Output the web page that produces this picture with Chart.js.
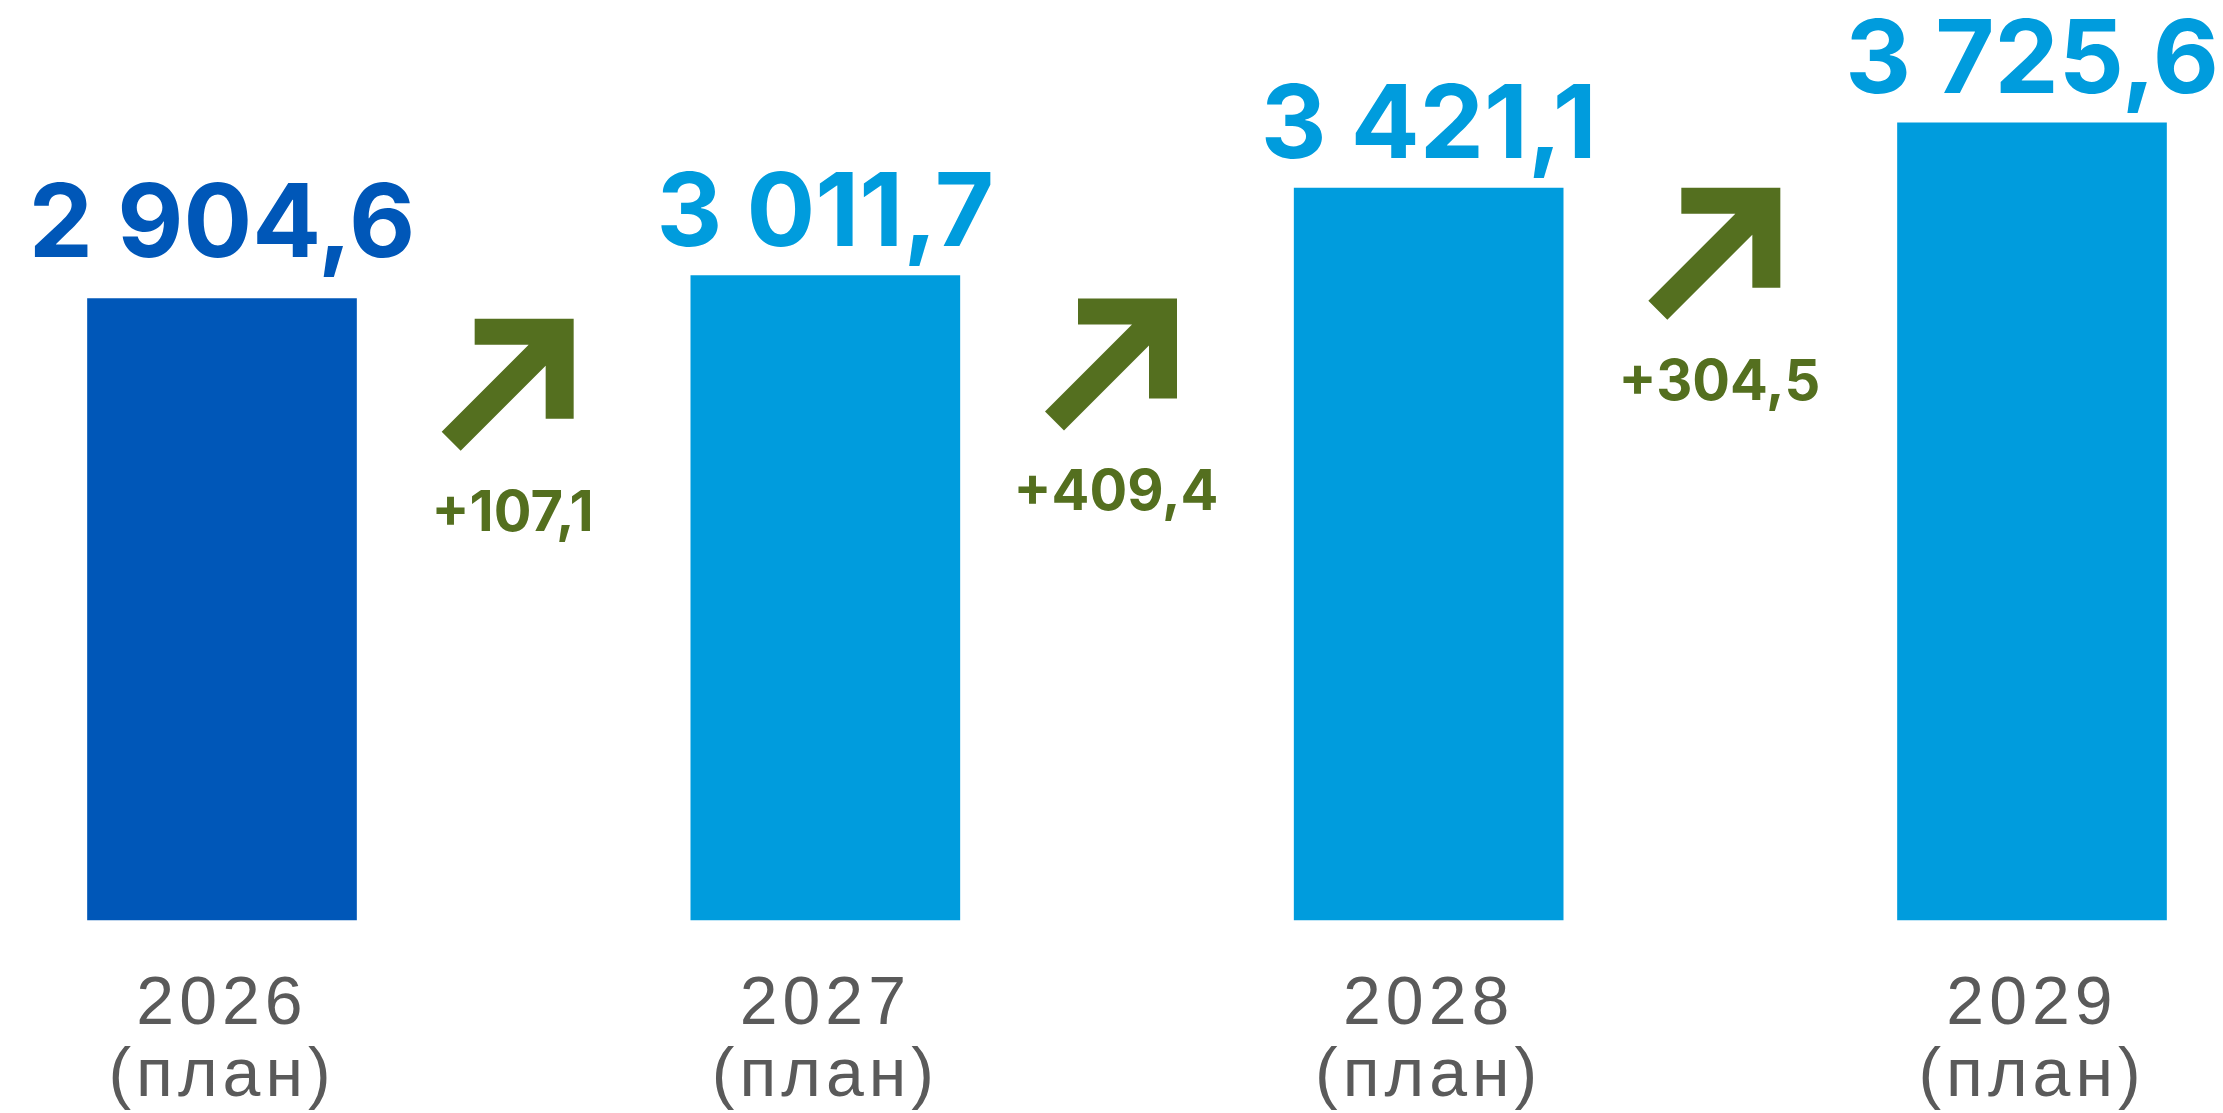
<!DOCTYPE html>
<html lang="ru">
<head>
  <meta charset="utf-8">
  <title>Прогноз по годам (план)</title>
  <script src="https://cdn.jsdelivr.net/npm/chart.js@4.4.1/dist/chart.umd.min.js"></script>
  <style>
    body { margin: 0; background: #fff; }
    canvas { display: block; }
  </style>
</head>
<body>
  <canvas id="chart" width="2223" height="1113"></canvas>
<script>
  var years = ['2026', '2027', '2028', '2029'];
  var yearNote = '(план)';
  var values = [2904.6, 3011.7, 3421.1, 3725.6];
  var barColors = ['#0057b8', '#009cdd', '#009cdd', '#009cdd'];
  // tip of each growth arrow, in y axis units
  var arrowTips = [2810, 2905, 3422];
  var green = '#546f1f';

  // 2904.6 -> "2 904,6"
  function fmt(v) {
    var parts = v.toFixed(1).split('.');
    var int = parts[0].replace(/\B(?=(\d{3})+$)/g, ' ');
    return int + ',' + parts[1];
  }

  var extras = {
    id: 'extras',
    beforeDraw: function (chart) {
      // spaced-out year labels
      chart.ctx.letterSpacing = '5px';
    },
    afterDatasetsDraw: function (chart) {
      var ctx = chart.ctx;
      var bars = chart.getDatasetMeta(0).data;
      var y = chart.scales.y;
      ctx.save();
      ctx.letterSpacing = '0px';
      ctx.textAlign = 'center';
      ctx.textBaseline = 'alphabetic';

      // values over the bars (first one, the base year, sits a bit higher)
      ctx.font = '700 102px Inter';
      bars.forEach(function (bar, i) {
        ctx.fillStyle = barColors[i];
        ctx.fillText(fmt(values[i]), bar.x, bar.y - (i === 0 ? 42 : 30));
      });

      // growth arrows between bars
      var shape = [[0, 0], [-99, 0], [-99, 26], [-45, 26], [-132, 113], [-113, 132], [-28, 47], [-28, 100], [0, 100]];
      ctx.fillStyle = green;
      ctx.font = '700 56px Inter';
      for (var i = 0; i < bars.length - 1; i++) {
        var tx = (bars[i].x + bars[i + 1].x) / 2 + 50;
        var ty = y.getPixelForValue(arrowTips[i]);
        ctx.beginPath();
        shape.forEach(function (p, k) {
          if (k === 0) ctx.moveTo(tx + p[0], ty + p[1]);
          else ctx.lineTo(tx + p[0], ty + p[1]);
        });
        ctx.closePath();
        ctx.fill();
        var diff = Math.round((values[i + 1] - values[i]) * 10) / 10;
        ctx.fillText('+' + fmt(diff), tx - 61, ty + 212);
      }
      ctx.restore();
    },
    afterDraw: function (chart) {
      chart.ctx.letterSpacing = '0px';
    }
  };

  window.onload = function () {
    var ctx = document.getElementById('chart').getContext('2d');
    window.myChart = new Chart(ctx, {
      type: 'bar',
      data: {
        labels: years.map(function (y) { return [y, yearNote]; }),
        datasets: [{
          data: values,
          backgroundColor: barColors,
          barThickness: 269,
          clip: false
        }]
      },
      options: {
        responsive: false,
        animation: false,
        layout: { padding: { left: 222, right: 191, top: 0, bottom: 0 } },
        plugins: {
          legend: { display: false },
          tooltip: { enabled: false }
        },
        scales: {
          x: {
            offset: false,
            grid: { display: false, drawTicks: false },
            border: { display: false },
            ticks: {
              color: '#5a5a5a',
              font: { family: 'Liberation Sans', size: 68, lineHeight: 1.05 },
              padding: 50,
              maxRotation: 0,
              autoSkip: false
            },
            afterFit: function (scale) { scale.height = 193; }
          },
          y: { display: false, min: 0, max: 4300 }
        }
      },
      plugins: [extras]
    });
  };
</script>
</body>
</html>
